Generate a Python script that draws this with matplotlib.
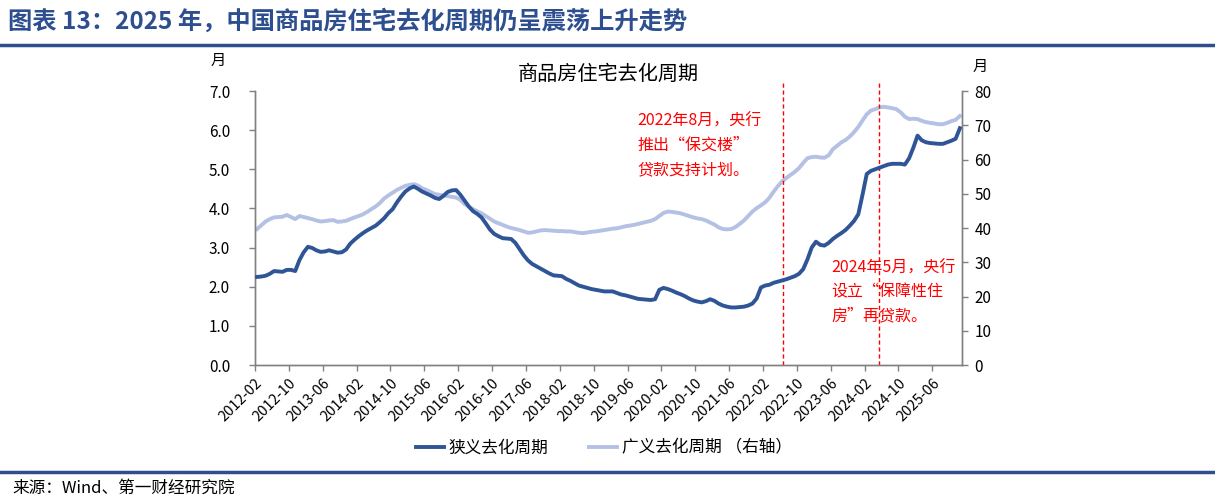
import numpy as np
import pandas as pd
import matplotlib
matplotlib.use("Agg")
import matplotlib.pyplot as plt

plt.rcParams['font.family'] = ['Noto Sans CJK SC', 'DejaVu Sans']

# ---------- data (monthly 2012-02 .. 2025-12) ----------
months = pd.date_range("2012-02-01", periods=167, freq="MS").strftime("%Y-%m").tolist()

narrow = [  # 狭义去化周期, left axis (月)
    2.25, 2.26, 2.28, 2.33, 2.40, 2.39, 2.38, 2.43, 2.43, 2.40,
    2.68, 2.88, 3.02, 2.99, 2.93, 2.89, 2.90, 2.93, 2.90, 2.87,
    2.88, 2.95, 3.10, 3.20, 3.29, 3.37, 3.44, 3.50, 3.56, 3.65,
    3.75, 3.88, 3.98, 4.15, 4.30, 4.43, 4.51, 4.56, 4.50, 4.43,
    4.38, 4.33, 4.27, 4.24, 4.32, 4.42, 4.46, 4.47, 4.35, 4.20,
    4.05, 3.93, 3.86, 3.77, 3.62, 3.46, 3.35, 3.29, 3.24, 3.23,
    3.22, 3.12, 2.96, 2.80, 2.67, 2.58, 2.52, 2.46, 2.40, 2.34,
    2.29, 2.28, 2.27, 2.20, 2.15, 2.09, 2.03, 2.00, 1.97, 1.94,
    1.92, 1.90, 1.88, 1.88, 1.88, 1.84, 1.80, 1.78, 1.75, 1.72,
    1.69, 1.68, 1.67, 1.66, 1.68, 1.92, 1.97, 1.94, 1.90, 1.85,
    1.81, 1.76, 1.70, 1.65, 1.62, 1.60, 1.63, 1.68, 1.64, 1.57,
    1.52, 1.49, 1.47, 1.47, 1.48, 1.49, 1.52, 1.57, 1.70, 1.98,
    2.03, 2.05, 2.10, 2.13, 2.16, 2.19, 2.23, 2.27, 2.33, 2.45,
    2.70, 3.00, 3.15, 3.07, 3.05, 3.12, 3.22, 3.30, 3.37, 3.45,
    3.56, 3.68, 3.85, 4.35, 4.88, 4.96, 5.00, 5.04, 5.08, 5.12,
    5.14, 5.14, 5.14, 5.12, 5.28, 5.55, 5.86, 5.74, 5.69, 5.67,
    5.66, 5.65, 5.65, 5.69, 5.73, 5.78, 6.05,
]

broad = [  # 广义去化周期, right axis (月)
    39.7, 40.8, 41.9, 42.6, 43.1, 43.2, 43.3, 43.8, 43.2, 42.6,
    43.5, 43.2, 42.9, 42.6, 42.2, 41.9, 42.0, 42.2, 42.3, 41.8,
    41.9, 42.1, 42.6, 43.1, 43.5, 44.0, 44.7, 45.5, 46.3, 47.3,
    48.6, 49.5, 50.3, 51.1, 51.7, 52.3, 52.6, 52.8, 52.4, 51.6,
    51.1, 50.5, 49.9, 49.7, 49.5, 49.3, 49.1, 48.9, 48.2, 47.0,
    46.2, 45.5, 44.9, 44.3, 43.5, 42.7, 41.9, 41.4, 40.9, 40.4,
    40.0, 39.7, 39.4, 39.0, 38.6, 38.7, 39.0, 39.3, 39.4, 39.3,
    39.2, 39.1, 39.1, 39.0, 39.0, 38.8, 38.6, 38.5, 38.7, 38.9,
    39.0, 39.2, 39.4, 39.6, 39.8, 39.9, 40.2, 40.5, 40.7, 40.9,
    41.2, 41.5, 41.8, 42.1, 42.6, 43.5, 44.4, 44.8, 44.7, 44.5,
    44.3, 43.9, 43.5, 43.1, 42.8, 42.6, 42.2, 41.6, 41.0, 40.2,
    39.7, 39.6, 39.7, 40.3, 41.2, 42.2, 43.5, 44.8, 45.8, 46.6,
    47.5, 48.8, 50.6, 52.2, 53.6, 54.6, 55.5, 56.4, 57.5, 59.0,
    60.4, 60.7, 60.8, 60.6, 60.5, 61.2, 63.0, 64.0, 65.0, 65.7,
    66.7, 68.0, 69.5, 71.4, 73.2, 74.3, 74.7, 75.2, 75.4, 75.2,
    75.0, 74.7, 73.8, 72.5, 71.8, 71.9, 71.8, 71.3, 70.9, 70.7,
    70.5, 70.3, 70.3, 70.7, 71.2, 71.6, 72.7,
]

left_ticks = [0.0, 1.0, 2.0, 3.0, 4.0, 5.0, 6.0, 7.0]
right_ticks = [0, 10, 20, 30, 40, 50, 60, 70, 80]

notes = ["2022年8月，央行\n推出“保交楼”\n贷款支持计划。",
         "2024年5月，央行\n设立“保障性住\n房”再贷款。"]

# ---------- styling ----------
DARK = "#2F5597"
LIGHT = "#B4C1E4"
TITLE_BLUE = "#2E4F8F"
GRAY = "#808080"

W, H = 1215, 504
fig = plt.figure(figsize=(W / 100, H / 100), dpi=100)
ax = fig.add_axes([255 / W, 1 - 365 / H, (962 - 255) / W, (365 - 91) / H])
ax2 = ax.twinx()

x = np.arange(len(months))
ln1, = ax.plot(x, narrow, color=DARK, lw=2.8, zorder=3)
ln2, = ax2.plot(x, broad, color=LIGHT, lw=2.8, zorder=2)
ax.set_zorder(ax2.get_zorder() + 1)
ax.patch.set_visible(False)

ax.set_xlim(-0.5, len(months) - 0.5)
ax.set_ylim(0, 7)
ax2.set_ylim(0, 80)

xt = np.arange(0, len(months), 8)
ax.set_xticks(xt - 0.5)
ax.set_xticklabels([months[i] for i in xt], rotation=45, ha="right",
                   rotation_mode="anchor", fontsize=10.5)
ax.set_yticks(left_ticks)
ax.set_yticklabels([f"{v:.1f}" for v in left_ticks], fontsize=11)
ax2.set_yticks(right_ticks)
ax2.set_yticklabels([str(v) for v in right_ticks], fontsize=11)

for a in (ax, ax2):
    a.spines["top"].set_visible(False)
    for s in ("left", "right", "bottom"):
        a.spines[s].set_color(GRAY)
        a.spines[s].set_linewidth(1.0)
    a.tick_params(direction="out", length=4, color=GRAY, width=1.0, pad=5)
ax.tick_params(axis="y", pad=14)
ax.tick_params(axis="x", pad=4)

# dashed policy markers
for xv in (124.3, 146.8):
    ax.plot([xv, xv], [0, 7.23], ls=(0, (3, 2)), color="red", lw=1.0,
            clip_on=False, zorder=1)

ax.text(89.8, 6.45, notes[0], color="red", fontsize=11.5, va="top",
        ha="left", linespacing=1.55)
ax.text(135.6, 2.70, notes[1], color="red", fontsize=11.5, va="top",
        ha="left", linespacing=1.55)

# titles and units
ax.set_title("商品房住宅去化周期", fontsize=14.5, pad=8)
fig.text(218 / W, 1 - 60 / H, "月", fontsize=11, ha="center", va="center")
fig.text(980 / W, 1 - 66 / H, "月", fontsize=11, ha="center", va="center")

leg = fig.legend([ln1, ln2], ["狭义去化周期", "广义去化周期 （右轴）"],
                 loc="center", bbox_to_anchor=(0.497, 1 - 448 / H), ncol=2,
                 frameon=False, fontsize=12, handlelength=1.7,
                 columnspacing=2.4, handletextpad=0.3)

# header / footer
fig.text(8 / W, 1 - 21 / H, "图表 13：2025 年，中国商品房住宅去化周期仍呈震荡上升走势",
         fontsize=17.5, fontweight="bold", color=TITLE_BLUE, ha="left", va="center")
fig.add_artist(plt.Line2D([0, 1], [1 - 45 / H, 1 - 45 / H], color=TITLE_BLUE,
                          lw=2.5, transform=fig.transFigure))
fig.add_artist(plt.Line2D([0, 1], [1 - 472 / H, 1 - 472 / H], color=TITLE_BLUE,
                          lw=2.5, transform=fig.transFigure))
fig.text(12 / W, 1 - 488 / H, "来源：Wind、第一财经研究院", fontsize=12,
         ha="left", va="center")

fig.savefig("out.png", dpi=100)
